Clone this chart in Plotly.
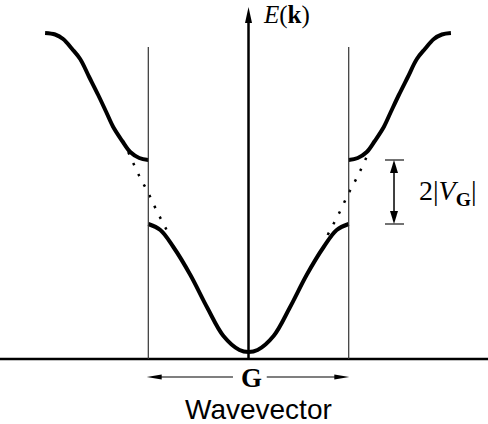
import plotly.graph_objects as go

# wavevector k in units of G/2, energy E in arbitrary units
lower_k = [-1.0, -0.88, -0.75, -0.58, -0.41, -0.25, -0.09, 0.0, 0.09, 0.25, 0.41, 0.58, 0.75, 0.88, 1.0]
lower_E = [1.35, 1.29, 1.12, 0.84, 0.51, 0.23, 0.09, 0.07, 0.09, 0.23, 0.51, 0.84, 1.12, 1.29, 1.35]

upper_left_k = [-2.03, -1.93, -1.85, -1.76, -1.68, -1.59, -1.5, -1.42, -1.35, -1.26, -1.18, -1.09, -1.0]
upper_left_E = [3.26, 3.245, 3.2, 3.1, 3.0, 2.82, 2.64, 2.47, 2.32, 2.18, 2.07, 2.01, 1.99]
upper_right_k = [1.0, 1.09, 1.18, 1.26, 1.35, 1.42, 1.5, 1.59, 1.68, 1.76, 1.85, 1.93, 2.02]
upper_right_E = [1.99, 2.01, 2.07, 2.18, 2.32, 2.47, 2.64, 2.82, 3.0, 3.1, 3.2, 3.245, 3.26]

# free-electron curve near the zone boundary (dotted)
free_left_k = [-1.2, -1.09, -1.0, -0.91, -0.79]
free_left_E = [2.07, 1.83, 1.66, 1.47, 1.24]
free_right_k = [0.79, 0.91, 1.0, 1.09, 1.2]
free_right_E = [1.24, 1.47, 1.66, 1.83, 2.07]

zone_k = [-1.0, 1.0]
zone_top = 3.12
axis_top = 3.52

X_RANGE = [-2.48, 2.39]
Y_RANGE = [-0.65, 3.59]
W, H = 488, 424
sx = W / (X_RANGE[1] - X_RANGE[0])
sy = H / (Y_RANGE[1] - Y_RANGE[0])


def arrow_head(x, y, dx, dy, length, half):
    """Filled triangle with its tip at (x, y), pointing along (dx, dy) in screen pixels."""
    bx = x - dx * length / sx
    by = y - dy * length / sy
    p1 = (bx - dy * half / sx, by + dx * half / sy)
    p2 = (bx + dy * half / sx, by - dx * half / sy)
    path = f"M{x},{y} L{p1[0]},{p1[1]} L{p2[0]},{p2[1]} Z"
    return dict(type="path", path=path, xref="x", yref="y",
                fillcolor="black", line=dict(width=0))


def seg(x0, y0, x1, y1, width, color="black", xref="x"):
    return dict(type="line", x0=x0, y0=y0, x1=x1, y1=y1, xref=xref, yref="y",
                line=dict(color=color, width=width))


fig = go.Figure()

band = dict(color="black", width=4)
fig.add_trace(go.Scatter(x=lower_k, y=lower_E, mode="lines", line=dict(shape="spline", **band)))
fig.add_trace(go.Scatter(x=upper_left_k, y=upper_left_E, mode="lines", line=dict(shape="spline", **band)))
fig.add_trace(go.Scatter(x=upper_right_k, y=upper_right_E, mode="lines", line=dict(shape="spline", **band)))

dots = dict(color="black", width=2.5, dash="2.5px,9.5px", shape="spline")
fig.add_trace(go.Scatter(x=free_left_k, y=free_left_E, mode="lines", line=dots))
fig.add_trace(go.Scatter(x=free_right_k, y=free_right_E, mode="lines", line=dots))

fig.update_traces(hoverinfo="skip", showlegend=False)

shapes = []
# baseline
shapes.append(seg(0, 0, 1, 0, 2.5, xref="paper"))
# zone boundaries
for k in zone_k:
    shapes.append(seg(k, 0, k, zone_top, 1.2, color="#333333"))
# energy axis with arrow
shapes.append(seg(0, 0, 0, axis_top - 0.14, 2.5))
shapes.append(arrow_head(0, axis_top, 0, 1, 16, 3.5))

# gap arrow 2|V_G|
gap_k = 1.452
gap_lo = lower_E[-1]
gap_hi = upper_right_E[0]
shapes.append(seg(gap_k - 0.09, gap_hi, gap_k + 0.1, gap_hi, 1.5, color="#444444"))
shapes.append(seg(gap_k - 0.09, gap_lo, gap_k + 0.1, gap_lo, 1.5, color="#444444"))
shapes.append(seg(gap_k, gap_lo + 0.1, gap_k, gap_hi - 0.1, 1.5))
shapes.append(arrow_head(gap_k, gap_hi, 0, 1, 13, 4))
shapes.append(arrow_head(gap_k, gap_lo, 0, -1, 13, 4))

# reciprocal lattice vector G arrow
g_y = -0.18
g_left, g_right = -1.016, 1.006
shapes.append(seg(g_left + 0.1, g_y, -0.155, g_y, 1.2))
shapes.append(seg(0.182, g_y, g_right - 0.1, g_y, 1.2))
shapes.append(arrow_head(g_left, g_y, -1, 0, 15, 2.6))
shapes.append(arrow_head(g_right, g_y, 1, 0, 15, 2.6))

serif = "Liberation Serif, Times New Roman, serif"
annotations = [
    dict(x=0.376, y=3.44, text="<i>E</i>(<b>k</b>)", font=dict(family=serif, size=25, color="black")),
    dict(x=1.99, y=1.67, text="2|<i>V</i><sub><b>G</b></sub>|", font=dict(family=serif, size=28, color="black")),
    dict(x=0.032, y=-0.19, text="<b>G</b>", font=dict(family=serif, size=27, color="black")),
    dict(x=0.095, y=-0.50, text="Wavevector", borderpad=0,
         font=dict(family="Liberation Sans, Arial, sans-serif", size=28, color="black")),
]
for a in annotations:
    a.update(xref="x", yref="y", showarrow=False, xanchor="center", yanchor="middle")

fig.update_layout(
    width=W, height=H,
    margin=dict(l=0, r=0, t=0, b=0),
    paper_bgcolor="white", plot_bgcolor="white",
    xaxis=dict(range=X_RANGE, visible=False, fixedrange=True),
    yaxis=dict(range=Y_RANGE, visible=False, fixedrange=True),
    shapes=shapes,
    annotations=annotations,
)

# the page body has a default 8px margin; drop it so the figure fills the window
fig.write_html("out.html", config={"displayModeBar": False},
               post_script="document.body.style.margin = '0';")
